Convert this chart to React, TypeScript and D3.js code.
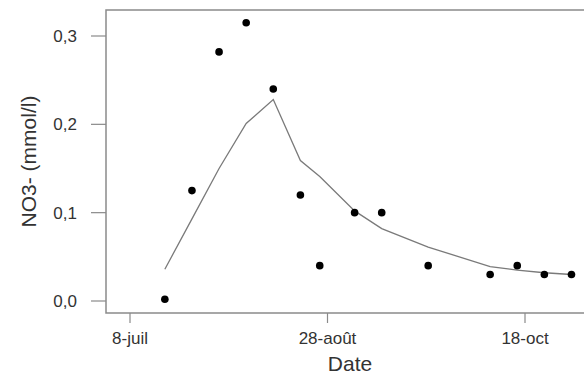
import React from "react";
import * as d3 from "d3";

const obsDates = ["2009-07-17","2009-07-24","2009-07-31","2009-08-07","2009-08-14","2009-08-21","2009-08-26","2009-09-04","2009-09-11","2009-09-23","2009-10-09","2009-10-16","2009-10-23","2009-10-30"];
const obsValues = [0.002, 0.125, 0.282, 0.315, 0.240, 0.120, 0.040, 0.100, 0.100, 0.040, 0.030, 0.040, 0.030, 0.030];
const modelDates = ["2009-07-17","2009-07-24","2009-07-31","2009-08-07","2009-08-14","2009-08-21","2009-08-26","2009-09-04","2009-09-11","2009-09-23","2009-10-09","2009-10-16","2009-10-23","2009-10-30"];
const modelValues = [0.036, 0.093, 0.150, 0.201, 0.228, 0.159, 0.141, 0.102, 0.082, 0.061, 0.039, 0.035, 0.032, 0.030];
const xTickDates = ["2009-07-08","2009-08-28","2009-10-18"];
const xTickLabels = ["8-juil","28-août","18-oct"];
const yTicks = [0, 0.1, 0.2, 0.3];
const yTickLabels = ["0,0","0,1","0,2","0,3"];

const parse = d3.timeParse("%Y-%m-%d");

export default function App() {
  const W = 584, H = 376;
  const left = 106, right = 594, top = 10, bottom = 313;
  const x = d3.scaleTime().domain([parse(xTickDates[0])!, parse(xTickDates[2])!]).range([130, 525]);
  const y = d3.scaleLinear().domain([0, 0.3]).range([301, 36]);
  const line = d3.line<[Date, number]>().x(d => x(d[0])).y(d => y(d[1]));
  const modelPts: [Date, number][] = modelDates.map((d, i) => [parse(d)!, modelValues[i]]);
  const axisColor = "#8a8a8a";
  const textColor = "#333";
  const font = "Liberation Sans, Arial, sans-serif";
  return (
    <svg width={W} height={H} style={{ position: "absolute", left: 0, top: 0, background: "#fff" }}>
      <rect x={0} y={0} width={W} height={H} fill="#fff" />
      <rect x={left} y={top} width={right - left} height={bottom - top} fill="none" stroke={axisColor} strokeWidth={1.5} />
      {yTicks.map((t, i) => (
        <g key={i}>
          <line x1={91} x2={left} y1={y(t)} y2={y(t)} stroke={axisColor} strokeWidth={1.2} />
          <text x={77} y={y(t)} dy="0.35em" textAnchor="end" fontSize={17} fontFamily={font} fill={textColor}>{yTickLabels[i]}</text>
        </g>
      ))}
      {xTickDates.map((d, i) => (
        <g key={i}>
          <line x1={x(parse(d)!)} x2={x(parse(d)!)} y1={bottom} y2={323} stroke={axisColor} strokeWidth={1.2} />
          <text x={x(parse(d)!)} y={344} textAnchor="middle" fontSize={17} fontFamily={font} fill={textColor}>{xTickLabels[i]}</text>
        </g>
      ))}
      <text x={350} y={371} textAnchor="middle" fontSize={21} fontFamily={font} fill={textColor}>Date</text>
      <text transform={`translate(36,${(top + bottom) / 2}) rotate(-90)`} textAnchor="middle" fontSize={21} fontFamily={font} fill={textColor}>NO3- (mmol/l)</text>
      <path d={line(modelPts) || ""} fill="none" stroke="#7a7a7a" strokeWidth={1.3} />
      {obsDates.map((d, i) => (
        <circle key={i} cx={x(parse(d)!)} cy={y(obsValues[i])} r={3.8} fill="#000" />
      ))}
    </svg>
  );
}
